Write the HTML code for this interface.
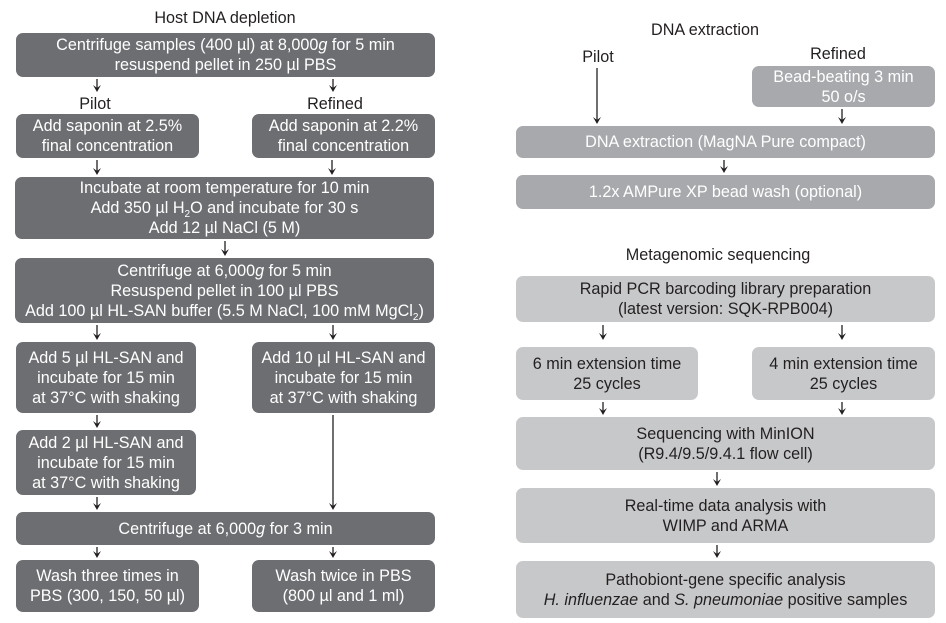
<!DOCTYPE html>
<html><head><meta charset="utf-8"><style>
body{margin:0;width:946px;height:623px;background:#fff;position:relative;overflow:hidden;font-family:"Liberation Sans","Noto Sans CJK SC",sans-serif;font-size:16.2px;}
.b{position:absolute;border-radius:7px;display:flex;justify-content:center;align-items:center;text-align:center;line-height:20px;}
.b>div{width:100%;white-space:nowrap;}
.d{background:#6d6e71;color:#fff;}
.m{background:#a7a9ac;color:#fff;}
.l{background:#c7c8ca;color:#231f20;}
.t{position:absolute;color:#231f20;transform:translateX(-50%);white-space:nowrap;}
sub{font-size:10px;line-height:0;}
svg{position:absolute;left:0;top:0;}
</style></head><body>
<div class="t" style="left:225px;top:9px">Host DNA depletion</div>
<div class="b d" style="left:16px;top:33px;width:419px;height:44px"><div>Centrifuge samples (400 µl) at 8,000<i>g</i> for 5 min<br>resuspend pellet in 250 µl PBS</div></div>
<div class="t" style="left:95px;top:95px">Pilot</div>
<div class="t" style="left:335px;top:95px">Refined</div>
<div class="b d" style="left:16px;top:114px;width:183px;height:44px"><div>Add saponin at 2.5%<br>final concentration</div></div>
<div class="b d" style="left:252px;top:114px;width:183px;height:44px"><div>Add saponin at 2.2%<br>final concentration</div></div>
<div class="b d" style="left:15px;top:177px;width:419px;height:62px"><div>Incubate at room temperature for 10 min<br>Add 350 µl H<sub>2</sub>O and incubate for 30 s<br>Add 12 µl NaCl (5 M)</div></div>
<div class="b d" style="left:15px;top:258px;width:419px;height:65px"><div>Centrifuge at 6,000<i>g</i> for 5 min<br>Resuspend pellet in 100 µl PBS<br>Add 100 µl HL-SAN buffer (5.5 M NaCl, 100 mM MgCl<sub>2</sub>)</div></div>
<div class="b d" style="left:16px;top:342px;width:180px;height:71px"><div>Add 5 µl HL-SAN and<br>incubate for 15 min<br>at 37°C with shaking</div></div>
<div class="b d" style="left:252px;top:342px;width:183px;height:71px"><div>Add 10 µl HL-SAN and<br>incubate for 15 min<br>at 37°C with shaking</div></div>
<div class="b d" style="left:16px;top:430px;width:180px;height:65px"><div>Add 2 µl HL-SAN and<br>incubate for 15 min<br>at 37°C with shaking</div></div>
<div class="b d" style="left:16px;top:512px;width:419px;height:33px"><div>Centrifuge at 6,000<i>g</i> for 3 min</div></div>
<div class="b d" style="left:16px;top:560px;width:183px;height:52px"><div>Wash three times in<br>PBS (300, 150, 50 µl)</div></div>
<div class="b d" style="left:252px;top:560px;width:183px;height:52px"><div>Wash twice in PBS<br>(800 µl and 1 ml)</div></div>

<div class="t" style="left:705px;top:21px">DNA extraction</div>
<div class="t" style="left:598px;top:48px">Pilot</div>
<div class="t" style="left:838px;top:45px">Refined</div>
<div class="b m" style="left:752px;top:66px;width:183px;height:41px"><div>Bead-beating 3 min<br>50 o/s</div></div>
<div class="b m" style="left:516px;top:126px;width:419px;height:32px"><div>DNA extraction (MagNA Pure compact)</div></div>
<div class="b m" style="left:516px;top:175px;width:419px;height:34px"><div>1.2x AMPure XP bead wash (optional)</div></div>
<div class="t" style="left:718px;top:246px">Metagenomic sequencing</div>
<div class="b l" style="left:516px;top:276px;width:419px;height:46px"><div>Rapid PCR barcoding library preparation<br>(latest version: SQK-RPB004)</div></div>
<div class="b l" style="left:516px;top:347px;width:182px;height:53px"><div>6 min extension time<br>25 cycles</div></div>
<div class="b l" style="left:752px;top:347px;width:183px;height:53px"><div>4 min extension time<br>25 cycles</div></div>
<div class="b l" style="left:516px;top:417px;width:419px;height:53px"><div>Sequencing with MinION<br>(R9.4/9.5/9.4.1 flow cell)</div></div>
<div class="b l" style="left:516px;top:488px;width:419px;height:55px"><div>Real-time data analysis with<br>WIMP and ARMA</div></div>
<div class="b l" style="left:516px;top:561px;width:419px;height:57px"><div>Pathobiont-gene specific analysis<br><i>H. influenzae</i> and <i>S. pneumoniae</i> positive samples</div></div>

<svg width="946" height="623">
<g stroke="#231f20" stroke-width="1.3" fill="#231f20" id="g"></g>
</svg>
<script>
var A=[[97,79,92],[333,79,92],[97,160,175],[332,160,175],[225,241,256],[97,325,340],[333,325,340],[97,415,428],[333,415,510],[97,497,510],[97,547,558],[333,547,558],[597,68,124],[842,109,124],[724,160,173],[603,325,340],[842,325,340],[603,402,415],[842,402,415],[717,472,486],[717,545,558]];
var g=document.getElementById('g'),h='';
A.forEach(function(a){var x=a[0],y1=a[1],y2=a[2];
h+='<line x1="'+x+'" y1="'+y1+'" x2="'+x+'" y2="'+(y2-3)+'"/>';
h+='<path stroke="none" d="M'+(x-4)+','+(y2-7)+' L'+x+','+y2+' L'+(x+4)+','+(y2-7)+' L'+x+','+(y2-4)+' Z"/>';});
g.innerHTML=h;
</script>
</body></html>
